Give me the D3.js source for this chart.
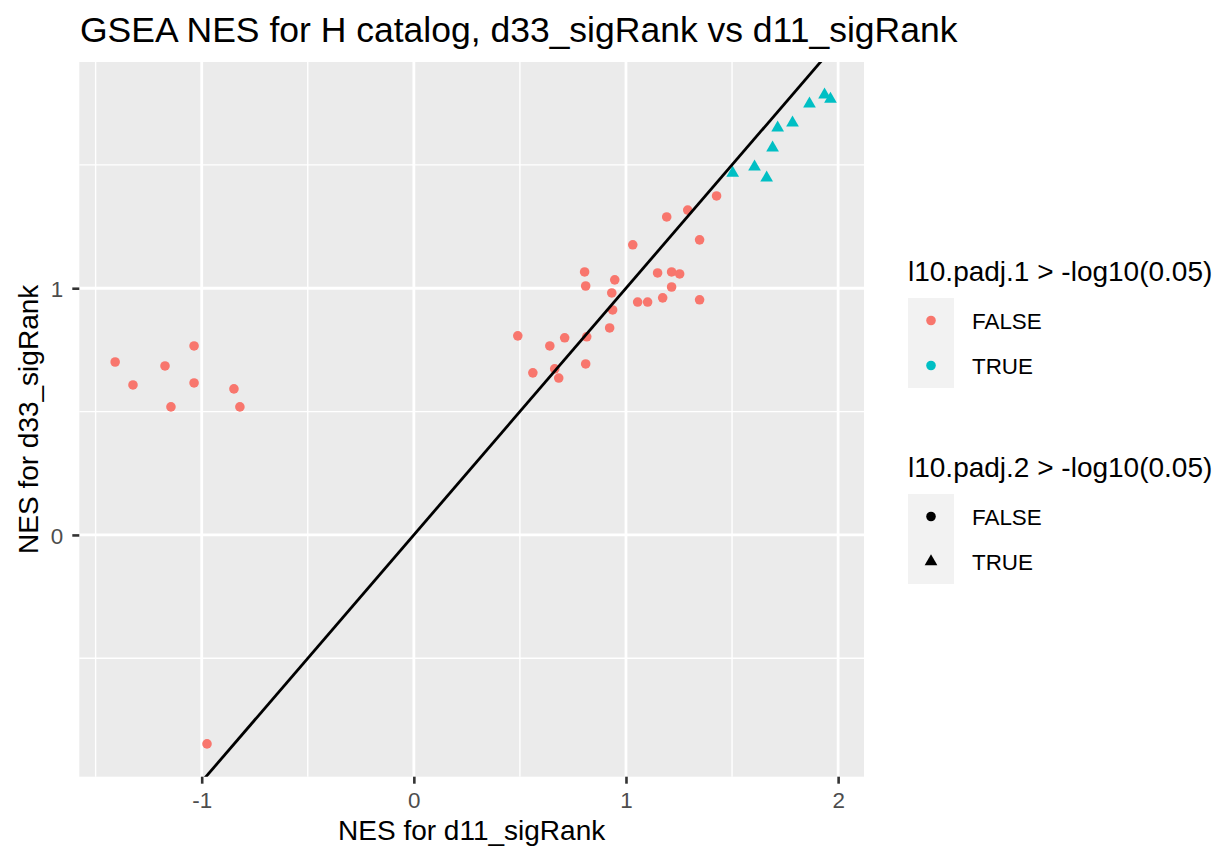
<!DOCTYPE html>
<html>
<head>
<meta charset="utf-8">
<script src="https://cdn.jsdelivr.net/npm/d3@7"></script>
<style>
  html, body { margin: 0; padding: 0; background: #ffffff; }
  svg text { font-family: "Liberation Sans", Arial, Helvetica, sans-serif; }
</style>
</head>
<body>
<svg id="chart" width="1228" height="848"></svg>
<script>
// ---- data ----
const nesD11 = [
  -1.408, -1.324, -1.173, -1.145, -1.036, -1.036, -0.848, -0.820, -0.975,
  0.490, 0.561, 0.641, 0.664, 0.683, 0.711, 0.810, 0.815, 0.805, 0.810, 0.923, 0.937, 0.933, 0.947,
  1.032, 1.055, 1.102, 1.149, 1.173, 1.192, 1.215, 1.215, 1.253, 1.291, 1.347, 1.347, 1.427,
  1.503, 1.606, 1.663, 1.691, 1.715, 1.785, 1.865, 1.936, 1.964
];
const nesD33 = [
  0.701, 0.608, 0.685, 0.519, 0.766, 0.616, 0.592, 0.519, -0.847,
  0.807, 0.657, 0.766, 0.673, 0.636, 0.799, 0.693, 0.803, 1.066, 1.009, 0.839, 0.912, 0.981, 1.034,
  1.176, 0.944, 0.944, 1.062, 0.961, 1.289, 1.066, 1.005, 1.058, 1.317, 1.196, 0.953, 1.374,
  1.467, 1.492, 1.447, 1.569, 1.650, 1.670, 1.747, 1.784, 1.767
];
// significance flags: l10.padj.1 > -log10(0.05) (colour), l10.padj.2 > -log10(0.05) (shape)
const sig1 = nesD11.map((_, i) => i >= 36);
const sig2 = nesD11.map((_, i) => i >= 36);
const xTicks = [-1, 0, 1, 2];
const yTicks = [0, 1];
const xMinor = [-1.5, -0.5, 0.5, 1.5];
const yMinor = [-0.5, 0.5, 1.5];
const levels = ["FALSE", "TRUE"];
const colours = ["#F8766D", "#00BFC4"];
const titleText = "GSEA NES for H catalog, d33_sigRank vs d11_sigRank";
const xTitle = "NES for d11_sigRank";
const yTitle = "NES for d33_sigRank";
const legend1Title = "l10.padj.1 > -log10(0.05)";
const legend2Title = "l10.padj.2 > -log10(0.05)";

const points = nesD11.map((x, i) => ({ x, y: nesD33[i], c: sig1[i], s: sig2[i] }));

// ---- layout ----
const svg = d3.select("#chart");
const panel = { left: 79.3, right: 864, top: 62, bottom: 776.7 };
const x = d3.scaleLinear().domain([-1.577, 2.122]).range([panel.left, panel.right]);
const y = d3.scaleLinear().domain([-0.980, 1.917]).range([panel.bottom, panel.top]);
const colour = d3.scaleOrdinal().domain(levels).range(colours);
const shapeOf = v => v ? d3.symbolTriangle : d3.symbolCircle;
const sizeOf = v => v ? 70 : 72;

svg.append("rect").attr("width", 1228).attr("height", 848).attr("fill", "#ffffff");

// panel background
svg.append("rect")
  .attr("x", panel.left).attr("y", panel.top)
  .attr("width", panel.right - panel.left).attr("height", panel.bottom - panel.top)
  .attr("fill", "#EBEBEB");

const grid = svg.append("g");
grid.selectAll("line.xminor").data(xMinor).join("line")
  .attr("x1", d => x(d)).attr("x2", d => x(d))
  .attr("y1", panel.top).attr("y2", panel.bottom)
  .attr("stroke", "#ffffff").attr("stroke-width", 1.4);
grid.selectAll("line.yminor").data(yMinor).join("line")
  .attr("y1", d => y(d)).attr("y2", d => y(d))
  .attr("x1", panel.left).attr("x2", panel.right)
  .attr("stroke", "#ffffff").attr("stroke-width", 1.4);
grid.selectAll("line.xmajor").data(xTicks).join("line")
  .attr("x1", d => x(d)).attr("x2", d => x(d))
  .attr("y1", panel.top).attr("y2", panel.bottom)
  .attr("stroke", "#ffffff").attr("stroke-width", 2.8);
grid.selectAll("line.ymajor").data(yTicks).join("line")
  .attr("y1", d => y(d)).attr("y2", d => y(d))
  .attr("x1", panel.left).attr("x2", panel.right)
  .attr("stroke", "#ffffff").attr("stroke-width", 2.8);

// clip for panel
svg.append("defs").append("clipPath").attr("id", "clip")
  .append("rect")
  .attr("x", panel.left).attr("y", panel.top)
  .attr("width", panel.right - panel.left).attr("height", panel.bottom - panel.top);

const plot = svg.append("g").attr("clip-path", "url(#clip)");

// points
plot.selectAll("path.pt").data(points).join("path")
  .attr("class", "pt")
  .attr("transform", d => `translate(${x(d.x)},${y(d.y)})`)
  .attr("d", d => d3.symbol().type(shapeOf(d.s)).size(sizeOf(d.s))())
  .attr("fill", d => colour(d.c ? "TRUE" : "FALSE"));

// identity line y = x
const xd = x.domain();
plot.append("line")
  .attr("x1", x(xd[0])).attr("y1", y(xd[0]))
  .attr("x2", x(xd[1])).attr("y2", y(xd[1]))
  .attr("stroke", "#000000").attr("stroke-width", 2.8);

// axes
const xAxis = d3.axisBottom(x).tickValues(xTicks).tickSize(7).tickPadding(4).tickFormat(d3.format("d"));
const gx = svg.append("g").attr("transform", `translate(0,${panel.bottom})`).call(xAxis);
gx.select(".domain").remove();
gx.selectAll(".tick line").attr("stroke", "#333333").attr("stroke-width", 2.6);
gx.selectAll(".tick text")
  .attr("fill", "#4D4D4D").attr("font-size", 22.4)
  .attr("dy", null).attr("y", 31.5).text(d => d < 0 ? "-" + Math.abs(d) : d);

const yAxis = d3.axisLeft(y).tickValues(yTicks).tickSize(7).tickPadding(8).tickFormat(d3.format("d"));
const gy = svg.append("g").attr("transform", `translate(${panel.left},0)`).call(yAxis);
gy.select(".domain").remove();
gy.selectAll(".tick line").attr("stroke", "#333333").attr("stroke-width", 2.6);
gy.selectAll(".tick text")
  .attr("fill", "#4D4D4D").attr("font-size", 22.4)
  .attr("x", -16).attr("dy", "0.36em");

// titles
svg.append("text").attr("x", 80).attr("y", 42)
  .attr("font-size", 35.5).attr("fill", "#000").text(titleText);
svg.append("text").attr("x", (panel.left + panel.right) / 2).attr("y", 840)
  .attr("text-anchor", "middle").attr("font-size", 28).attr("fill", "#000").text(xTitle);
svg.append("text")
  .attr("transform", `translate(38,${(panel.top + panel.bottom) / 2}) rotate(-90)`)
  .attr("text-anchor", "middle").attr("font-size", 28).attr("fill", "#000").text(yTitle);

// legends
function legend(top, title, keyDraw) {
  const g = svg.append("g");
  g.append("text").attr("x", 908).attr("y", top).attr("font-size", 28).attr("fill", "#000").text(title);
  const boxTop = top + 17;
  g.append("rect").attr("x", 908).attr("y", boxTop).attr("width", 46).attr("height", 90).attr("fill", "#F2F2F2");
  levels.forEach((lv, i) => {
    const cy = boxTop + 22.5 + i * 45;
    keyDraw(g, 931, cy, lv);
    g.append("text").attr("x", 972).attr("y", cy).attr("dy", "0.36em")
      .attr("font-size", 22.4).attr("fill", "#000").text(lv);
  });
}
legend(281, legend1Title, (g, cx, cy, lv) => {
  g.append("circle").attr("cx", cx).attr("cy", cy).attr("r", 4.8).attr("fill", colour(lv));
});
legend(477, legend2Title, (g, cx, cy, lv) => {
  g.append("path").attr("transform", `translate(${cx},${cy})`)
    .attr("d", d3.symbol().type(shapeOf(lv === "TRUE")).size(sizeOf(lv === "TRUE"))())
    .attr("fill", "#000");
});
</script>
</body>
</html>
